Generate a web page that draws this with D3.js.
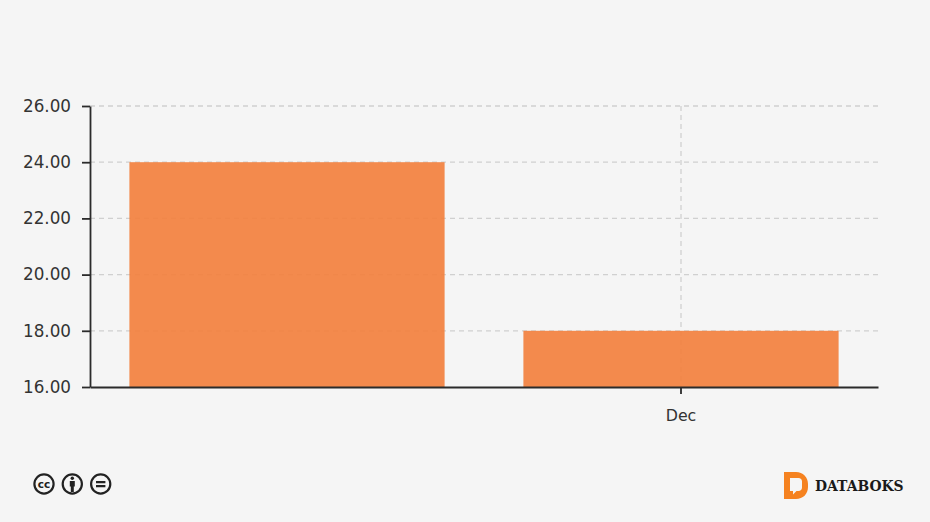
<!DOCTYPE html>
<html><head><meta charset="utf-8">
<script src="https://cdn.jsdelivr.net/npm/d3@7/dist/d3.min.js"></script>
<style>
html,body{margin:0;padding:0;background:#f5f5f5}
svg{display:block}
text{font-family:"DejaVu Sans",sans-serif}
</style></head><body>
<svg id="c" width="930" height="522"></svg>
<script>
const categories = ["", "Dec"];
const values = [24, 18];
const yTicks = [16, 18, 20, 22, 24, 26];

const svg = d3.select("#c");
const x = d3.scaleBand().domain(categories).range([90, 878]).paddingInner(0.2).paddingOuter(0.1);
const xC = d3.scaleBand().domain(categories).range([90, 878]);
const y = d3.scaleLinear().domain([16, 26]).range([387, 106]);

const grid = svg.append("g");
grid.selectAll("line.h").data(yTicks.slice(1)).join("line")
  .attr("x1", 90).attr("x2", 879).attr("y1", d => y(d)).attr("y2", d => y(d))
  .attr("stroke", "#d0d0d0").attr("stroke-width", 1.3).attr("stroke-dasharray", "5 4");
grid.append("line").attr("x1", xC("Dec") + xC.bandwidth() / 2).attr("x2", xC("Dec") + xC.bandwidth() / 2)
  .attr("y1", 106).attr("y2", 387)
  .attr("stroke", "#d0d0d0").attr("stroke-width", 1.3).attr("stroke-dasharray", "5 4");

svg.append("g").selectAll("rect").data(values).join("rect")
  .attr("x", (d, i) => x(categories[i])).attr("width", x.bandwidth())
  .attr("y", d => y(d)).attr("height", d => y(16) - y(d))
  .attr("fill", "#f37e3b").attr("fill-opacity", 0.9);

const yAxis = d3.axisLeft(y).tickValues(yTicks).tickFormat(d3.format(".2f")).tickSize(8).tickSizeOuter(0).tickPadding(11);
const gy = svg.append("g").attr("transform", "translate(90,0)").call(yAxis);
gy.selectAll("text").attr("fill", "#333").style("font-size", "16.8px");
gy.selectAll("line,path").attr("stroke", "#2b2b2b").attr("stroke-width", 1.8);

const xAxis = d3.axisBottom(xC).tickValues(["Dec"]).tickSize(7).tickSizeOuter(0).tickPadding(16);
const gx = svg.append("g").attr("transform", "translate(0,387)").call(xAxis);
gx.selectAll("text").style("font-size", "15.8px").attr("fill", "#333");
gx.selectAll("line,path").attr("stroke", "#2b2b2b").attr("stroke-width", 1.8);

// licence icons
const icons = [44, 72.3, 100.7];
const ig = svg.append("g");
ig.selectAll("circle").data(icons).join("circle")
  .attr("cx", d => d).attr("cy", 484).attr("r", 9.6)
  .attr("fill", "#f5f5f5").attr("stroke", "#222").attr("stroke-width", 2.2);
ig.append("text").attr("x", 44).attr("y", 487.5).attr("text-anchor", "middle")
  .attr("font-weight", 700).style("font-size", "10.5px").attr("fill", "#222").text("cc");
ig.append("circle").attr("cx", 72.3).attr("cy", 478.3).attr("r", 1.7).attr("fill", "#222");
ig.append("path").attr("d", "M69.8 481h5v5.5h-1v5.5h-3v-5.5h-1z").attr("fill", "#222");
ig.append("path").attr("d", "M96 481h9.4v2.2H96zM96 485h9.4v2.2H96z").attr("fill", "#222");

// brand mark
svg.append("path")
  .attr("fill-rule", "evenodd")
  .attr("fill", "#f58220")
  .attr("d", "M784 472h12c7 0 12 5 12 12v3c0 7-5 12-12 12h-12z M790 478v13h3v3.5l3.5-3.5h2c2 0 3.5-1.5 3.5-3.5v-6c0-2-1.5-3.5-3.5-3.5z");
svg.append("text").attr("x", 815).attr("y", 491)
  .attr("font-weight", 700).style("font-family", "'DejaVu Serif',serif").style("font-size", "13.9px").attr("fill", "#1a1a1a").text("DATABOKS");
</script>
</body></html>
